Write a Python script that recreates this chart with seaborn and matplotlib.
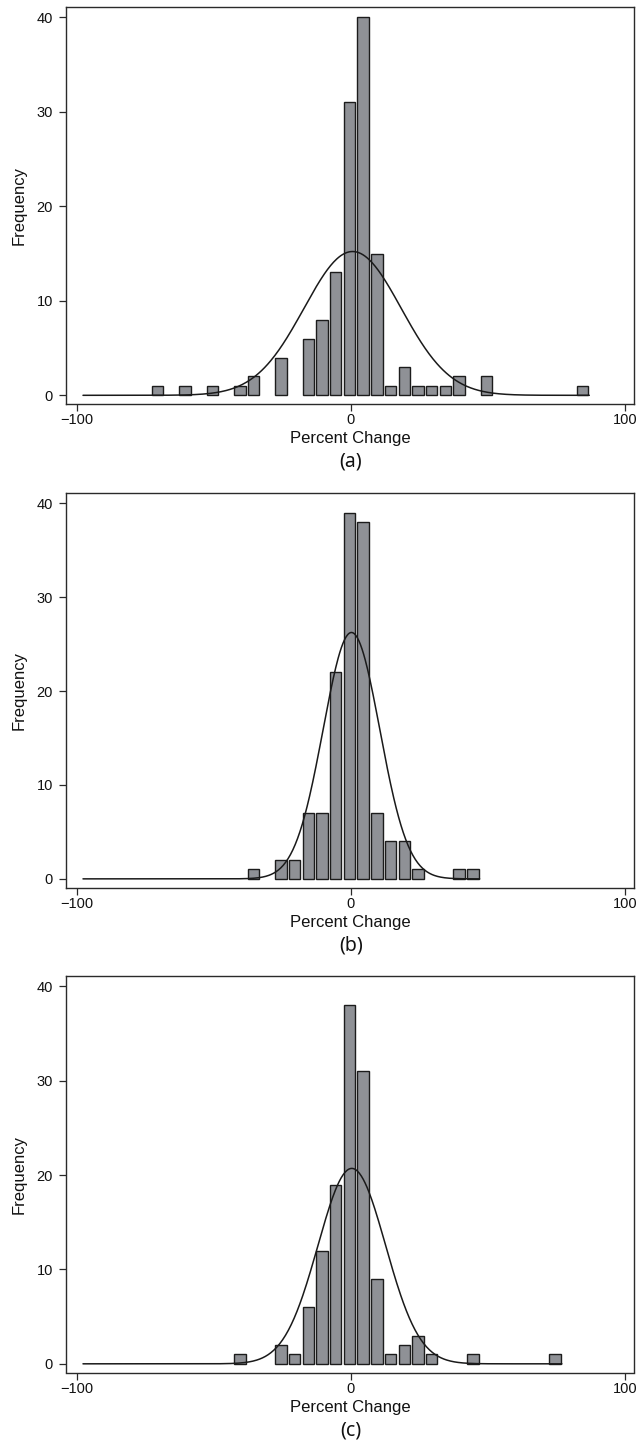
import numpy as np
import pandas as pd
import matplotlib
matplotlib.use("Agg")
import matplotlib.pyplot as plt
import seaborn as sns

# histogram bins: bin centres (width 5) and frequencies
a_centers = [-70.5, -60.5, -50.5, -40.5, -35.5, -25.5, -15.5, -10.5, -5.5, -0.5,
             4.5, 9.5, 14.5, 19.5, 24.5, 29.5, 34.5, 39.5, 49.5, 84.5]
a_counts = [1, 1, 1, 1, 2, 4, 6, 8, 13, 31, 40, 15, 1, 3, 1, 1, 1, 2, 2, 1]

b_centers = [-35.5, -25.5, -20.5, -15.5, -10.5, -5.5, -0.5, 4.5, 9.5, 14.5,
             19.5, 24.5, 39.5, 44.5]
b_counts = [1, 2, 2, 7, 7, 22, 39, 38, 7, 4, 4, 1, 1, 1]

c_centers = [-40.5, -25.5, -20.5, -15.5, -10.5, -5.5, -0.5, 4.5, 9.5, 14.5,
             19.5, 24.5, 29.5, 44.5, 74.5]
c_counts = [1, 2, 1, 6, 12, 19, 38, 31, 9, 1, 2, 3, 1, 1, 1]

panel_labels = ["(a)", "(b)", "(c)"]
x_ticks = [-100, 0, 100]
y_ticks = [0, 10, 20, 30, 40]

bin_width = 5
curve_start = -97.7

sns.set_theme(style="white")
plt.rcParams["font.family"] = ["Liberation Sans", "DejaVu Sans"]

W, H = 642, 1446
fig = plt.figure(figsize=(W / 100, H / 100), dpi=100)

# pixel rows (top, bottom) of each panel frame
frames = [(7, 404), (493, 887.5), (976, 1372.5)]
left, right = 66, 633.7

panels = [(a_centers, a_counts), (b_centers, b_counts), (c_centers, c_counts)]

for (centers, counts), (top, bottom), lab in zip(panels, frames, panel_labels):
    ax = fig.add_axes([left / W, 1 - bottom / H, (right - left) / W, (bottom - top) / H])
    df = pd.DataFrame({"change": centers, "freq": counts})
    lo = min(centers) - bin_width / 2
    hi = max(centers) + bin_width / 2

    sns.histplot(data=df, x="change", weights="freq", binwidth=bin_width,
                 binrange=(lo, hi), shrink=0.84, color="#8f9196",
                 edgecolor="#1c1c1c", linewidth=1.0, alpha=1, ax=ax)
    # empty bins: no outline on the baseline
    for p in ax.patches:
        if p.get_height() == 0:
            p.set_visible(False)

    # normal curve with the data's mean and sd, scaled to frequencies
    c = np.array(centers, dtype=float)
    n = np.array(counts, dtype=float)
    mu = np.average(c, weights=n)
    sd = np.sqrt(np.sum(n * (c - mu) ** 2) / (n.sum() - 1))
    xs = np.linspace(curve_start, hi, 500)
    ys = n.sum() * bin_width * np.exp(-0.5 * ((xs - mu) / sd) ** 2) / (sd * np.sqrt(2 * np.pi))
    sns.lineplot(x=xs, y=ys, color="#1a1a1a", linewidth=1.1, ax=ax)

    ax.set_xlim(-103.9, 103.2)
    ax.set_ylim(-0.92, 41.1)
    ax.set_xticks(x_ticks)
    ax.set_yticks(y_ticks)
    for s in ax.spines.values():
        s.set_visible(True)
        s.set_color("#2a2a2a")
        s.set_linewidth(1.0)
    ax.tick_params(axis="both", direction="out", length=5, width=0.9,
                   color="#2a2a2a", labelsize=10.5, labelcolor="#111111")
    ax.tick_params(axis="x", bottom=True, pad=1.5)
    ax.tick_params(axis="y", left=True, pad=4.5)

    ax.set_xlabel("Percent Change", fontsize=12, color="#111111", labelpad=3)
    ax.set_ylabel("Frequency", fontsize=12, color="#111111")
    ax.yaxis.set_label_coords(-0.07, 0.5)

    ax.text(0, -0.146, lab, transform=ax.get_xaxis_transform(), ha="center",
            va="center", fontsize=14, color="#111111", family=["Noto Sans", "DejaVu Sans"])

fig.savefig("out.png", dpi=100)
